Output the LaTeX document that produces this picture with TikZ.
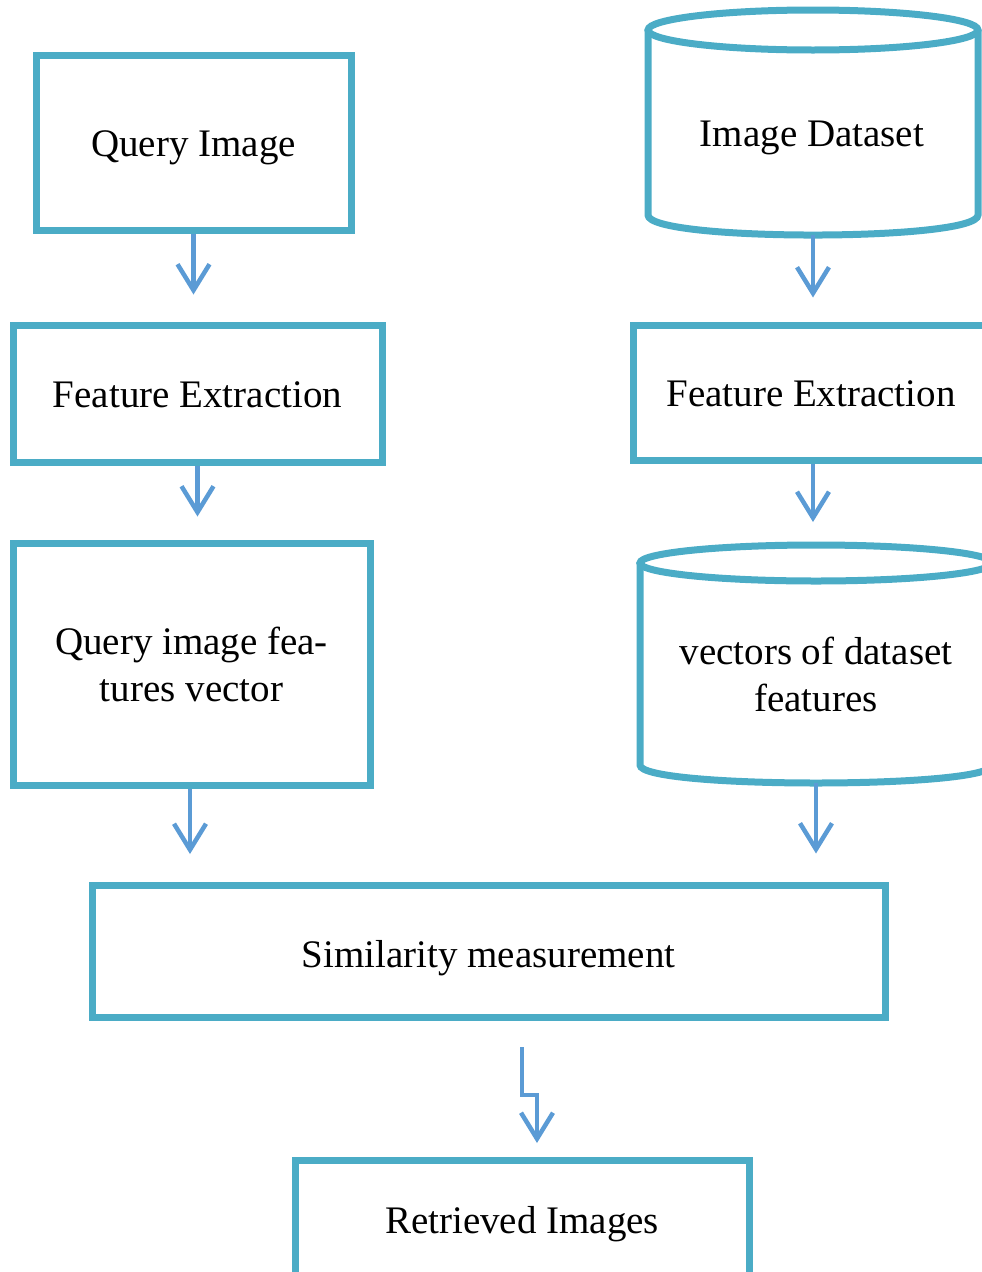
\documentclass[tikz,border=0pt]{standalone}
\usepackage{fontspec}
\setmainfont{Liberation Serif}
\usetikzlibrary{arrows.meta,calc}
\definecolor{boxc}{RGB}{75,172,198}
\definecolor{arrc}{RGB}{91,155,213}
\newcommand\lowtext[2]{\raisebox{-#1}[0pt][0pt]{#2}}
\begin{document}
\begin{tikzpicture}[x=1pt,y=-1pt,
  boxline/.style={draw=boxc,line width=7pt},
  stepbox/.style={boxline,rectangle,inner sep=0pt,align=center,font=\fontsize{39}{47}\selectfont},
  lbl/.style={inner sep=0pt,align=center,font=\fontsize{39}{47}\selectfont},
  arr/.style={draw=arrc,line width=4.5pt,-{Straight Barb[length=26pt,width=32pt,line width=4.5pt]}}]
\useasboundingbox (0,0) rectangle (982,1272);
\clip (0,0) rectangle (982,1272);
% left column
\node[stepbox,minimum width=315pt,minimum height=175pt] (qi) at (193.5,142.5) {\lowtext{13.5pt}{Query Image}};
\node[stepbox,minimum width=369pt,minimum height=137pt] (fe1) at (197.5,393.5) {\lowtext{13.5pt}{Feature Extraction}};
\node[stepbox,minimum width=357pt,minimum height=242pt] (qfv) at (191.5,664) {Query image fea-\\tures vector};
% right column
\draw[boxline] (813,30) ellipse [x radius=165, y radius=20];
\draw[boxline] (648,30) -- (648,215) .. controls (648,241.7) and (978,241.7) .. (978,215) -- (978,30);
\node[lbl,anchor=base] (ds) at (812,146.5) {Image Dataset};
\coordinate (dsb) at (813,235);
\node[stepbox,minimum width=356pt,minimum height=135pt] (fe2) at (811,392.5) {\lowtext{14pt}{Feature Extraction}};
\draw[boxline] (816,563) ellipse [x radius=176, y radius=18];
\draw[boxline] (640,563) -- (640,765) .. controls (640,789) and (992,789) .. (992,765) -- (992,563);
\node[lbl] (vd) at (816,674) {vectors of dataset\\features};
\coordinate (vdt) at (813,545);
\coordinate (vdb) at (816,783);
% bottom
\node[stepbox,minimum width=793pt,minimum height=132pt] (sim) at (488.5,951) {\lowtext{16pt}{Similarity measurement}};
\node[stepbox,minimum width=454pt,minimum height=124pt] (ret) at (522,1222) {\lowtext{11pt}{Retrieved Images}};
% arrows
\draw[arr,shorten >=27pt] (qi.south) -- (qi.south |- fe1.north);
\draw[arr,shorten >=23pt] (fe1.south) -- (fe1.south |- qfv.north);
\draw[arr,shorten >=31pt] (qfv.south -| 190,0) -- (190,885);
\draw[arr,shorten >=24pt] (dsb) -- (dsb |- fe2.north);
\draw[arr,shorten >=23pt] (fe2.south -| vdt) -- (vdt);
\draw[arr,shorten >=28pt] (vdb) -- (vdb |- sim.north);
\coordinate (z1) at (522,1047);
\coordinate (za) at (522,1095);
\coordinate (zb) at (537,1095);
\coordinate (z2) at (537,1143);
\draw[arr] (z1) -- (za) -- (zb) -- (z2);
\end{tikzpicture}
\end{document}
